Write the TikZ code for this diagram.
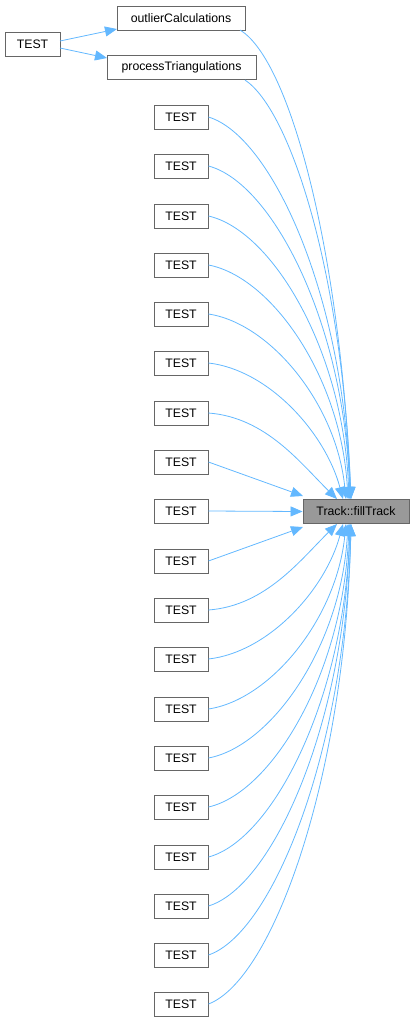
\documentclass[tikz,border=0pt]{standalone}
\usepackage{fontspec}
\setmainfont{Liberation Sans}
\usetikzlibrary{arrows.meta}
\definecolor{edgeblue}{HTML}{63B8FF}
\definecolor{boxgray}{HTML}{666666}
\definecolor{fillgray}{HTML}{999999}
\begin{document}
\begin{tikzpicture}[x=1pt,y=-1pt,
  box/.style={draw=boxgray,line width=0.9pt,fill=white,minimum height=24pt,inner sep=0pt,
    font=\fontsize{12.3}{14}\selectfont,anchor=center},
  testbox/.style={box,minimum width=54pt},
  target/.style={box,fill=fillgray,minimum width=106pt},
  edge/.style={draw=edgeblue,line width=0.8pt,-{Triangle[length=12pt,width=10pt]}}
]
\useasboundingbox (0,0) rectangle (415,1023);
\node[box,minimum width=55pt] (root) at (32.5,44.5) {TEST};
\node[box,minimum width=128pt] (oc) at (181,18.5) {outlierCalculations};
\node[box,minimum width=149pt] (pt) at (181.5,67.5) {processTriangulations};
\node[target] (tgt) at (356,511.5) {Track::fillTrack};
\foreach \i/\yy in {1/117,2/166,3/216,4/265,5/314,6/363,7/413,8/462,9/511,10/561,11/610,12/659,13/709,14/758,15/807,16/857,17/906,18/955,19/1004}{
  \node[testbox] (t\i) at (181,\yy) {TEST};
}
% root edges
\coordinate (rs1) at (60,41);
\coordinate (rs2) at (60,48);
\coordinate (oce) at (117,29);
\coordinate (pte) at (107,58);
\draw[edge] (rs1) -- (oce);
\draw[edge] (rs2) -- (pte);
% upper far edges
\coordinate (ocs) at (240,30);
\coordinate (pts) at (245,80);
\coordinate (et) at (351,499);
\draw[edge] (ocs) .. controls (290,60) and (340,250) .. (et);
\draw[edge] (pts) .. controls (290,110) and (342,270) .. (et);
\foreach \i/\yy/\ex/\f in {1/117/350/0.04,2/166/350/0.04,3/216/349/0.04,4/265/348/0.05,5/314/346/0.07,6/363/343/0.13,7/413/337/0.28}{
  \pgfmathsetmacro{\cax}{208+0.45*(\ex-208)}
  \pgfmathsetmacro{\cay}{\yy+0.05*(499-\yy)}
  \pgfmathsetmacro{\cbx}{\ex-\f*(\ex-208)}
  \pgfmathsetmacro{\cby}{\yy+(0.45+\f*0.5)*(499-\yy)}
  \coordinate (e\i) at (\ex,499);
  \draw[edge] (t\i.east) .. controls (\cax,\cay) and (\cbx,\cby) .. (e\i);
}
\coordinate (e8) at (303,496);
\draw[edge] (t8.east) -- (e8);
\draw[edge] (t9.east) -- (tgt.west);
\coordinate (e10) at (303,527);
\draw[edge] (t10.east) -- (e10);
\foreach \i/\yy/\ex/\f in {11/610/337/0.28,12/659/343/0.13,13/709/346/0.07,14/758/348/0.05,15/807/349/0.04,16/857/350/0.04,17/906/350/0.04,18/955/351/0.04,19/1004/351/0.04}{
  \pgfmathsetmacro{\cax}{208+0.45*(\ex-208)}
  \pgfmathsetmacro{\cay}{\yy+0.05*(524-\yy)}
  \pgfmathsetmacro{\cbx}{\ex-\f*(\ex-208)}
  \pgfmathsetmacro{\cby}{\yy+(0.45+\f*0.5)*(524-\yy)}
  \coordinate (e\i) at (\ex,524);
  \draw[edge] (t\i.east) .. controls (\cax,\cay) and (\cbx,\cby) .. (e\i);
}
\end{tikzpicture}
\end{document}
